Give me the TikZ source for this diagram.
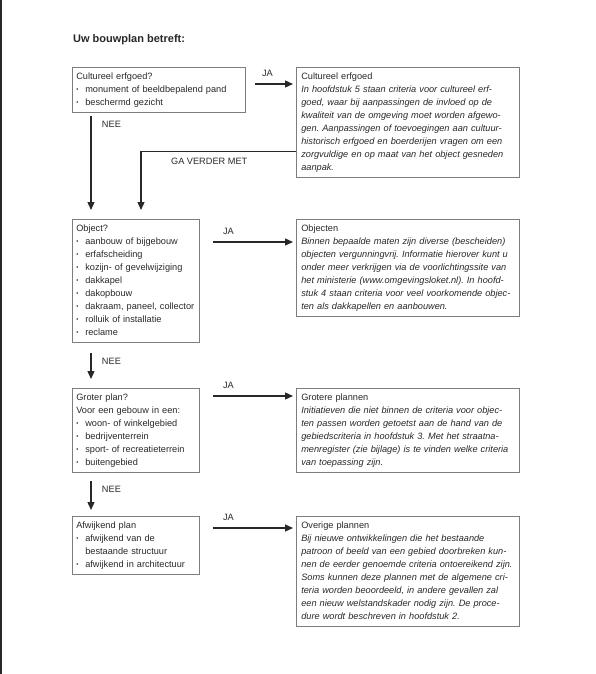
\documentclass[tikz,border=0pt]{standalone}
\usepackage{fontspec}
\setmainfont{Liberation Sans}
\usetikzlibrary{arrows.meta, positioning}
\definecolor{frame}{RGB}{125,125,125}
\definecolor{ink}{RGB}{40,40,40}
\newcommand{\itm}[1]{\makebox[9pt][l]{\raisebox{0.8pt}{\fontsize{6}{6}\selectfont\textbullet}}#1}
\newcommand{\jl}[1]{\makebox[\linewidth][s]{#1}\\}
\frenchspacing

\begin{document}
\begin{tikzpicture}[x=1pt, y=-1pt,
    question/.style={rectangle, draw=frame, line width=0.6pt, anchor=north west,
                     text width=#1, align=left, inner xsep=4pt, inner ysep=3pt,
                     text=ink, font=\fontsize{9.2}{13}\selectfont,
                     execute at begin node=\strut, execute at end node=\strut},
    answer/.style={question=213pt, inner xsep=5pt},
    arr/.style={-{Triangle[length=8pt,width=7pt]}, line width=1.3pt, draw=ink},
    lbl/.style={font=\fontsize{9.2}{11}\selectfont, text=ink},
    nee/.style={lbl, anchor=north west, xshift=7pt, yshift=-2pt}
  ]
  \useasboundingbox (0,0) rectangle (596,674);
  \draw[line width=1.5pt, ink] (0.75,0) -- (0.75,674);

  \node[anchor=base west, inner sep=0pt, text=ink,
        font=\bfseries\fontsize{11}{13}\selectfont] (title) at (73,43)
    {Uw bouwplan betreft:};

  % vragen links
  \node[question=165pt] (cult) at (72,67)
    {Cultureel erfgoed?\\
     \itm{monument of beeldbepalend pand}\\
     \itm{beschermd gezicht}};
  \node[question=119pt] (obj) at (72,219)
    {Object?\\
     \itm{aanbouw of bijgebouw}\\
     \itm{erfafscheiding}\\
     \itm{kozijn- of gevelwijziging}\\
     \itm{dakkapel}\\
     \itm{dakopbouw}\\
     \itm{dakraam, paneel, collector}\\
     \itm{rolluik of installatie}\\
     \itm{reclame}};
  \node[question=119pt] (groot) at (72,388)
    {Groter plan?\\
     Voor een gebouw in een:\\
     \itm{woon- of winkelgebied}\\
     \itm{bedrijventerrein}\\
     \itm{sport- of recreatieterrein}\\
     \itm{buitengebied}};
  \node[question=119pt] (afw) at (72,516)
    {Afwijkend plan\\
     \itm{afwijkend van de}\\
     \hspace*{9pt}bestaande structuur\\
     \itm{afwijkend in architectuur}};

  % toelichting rechts
  \node[answer] (cultinfo) at (296,67)
    {Cultureel erfgoed\\ \itshape
     \jl{In hoofdstuk 5 staan criteria voor cultureel erf-}
     \jl{goed, waar bij aanpassingen de invloed op de}
     \jl{kwaliteit van de omgeving moet worden afgewo-}
     \jl{gen. Aanpassingen of toevoegingen aan cultuur-}
     \jl{historisch erfgoed en boerderijen vragen om een}
     \jl{zorgvuldige en op maat van het object gesneden}
     aanpak.};
  \node[answer] (objinfo) at (296,219)
    {Objecten\\ \itshape
     \jl{Binnen bepaalde maten zijn diverse (bescheiden)}
     \jl{objecten vergunningvrij. Informatie hierover kunt u}
     \jl{onder meer verkrijgen via de voorlichtingssite van}
     \jl{het ministerie (www.omgevingsloket.nl). In hoofd-}
     \jl{stuk 4 staan criteria voor veel voorkomende objec-}
     ten als dakkapellen en aanbouwen.};
  \node[answer] (grootinfo) at (296,388)
    {Grotere plannen\\ \itshape
     \jl{Initiatieven die niet binnen de criteria voor objec-}
     \jl{ten passen worden getoetst aan de hand van de}
     \jl{gebiedscriteria in hoofdstuk 3. Met het straatna-}
     \jl{menregister (zie bijlage) is te vinden welke criteria}
     van toepassing zijn.};
  \node[answer] (overinfo) at (296,516)
    {Overige plannen\\ \itshape
     \jl{Bij nieuwe ontwikkelingen die het bestaande}
     \jl{patroon of beeld van een gebied doorbreken kun-}
     \jl{nen de eerder genoemde criteria ontoereikend zijn.}
     \jl{Soms kunnen deze plannen met de algemene cri-}
     \jl{teria worden beoordeeld, in andere gevallen zal}
     \jl{een nieuw welstandskader nodig zijn. De proce-}
     dure wordt beschreven in hoofdstuk 2.};

  % JA
  \draw[arr, shorten >=3pt] ([xshift=9pt,yshift=-17pt]cult.north east) coordinate (ja1)
    -- (ja1 -| cultinfo.west) node[lbl, pos=0.31, above=3pt] {JA};
  \draw[arr, shorten >=3pt] ([xshift=13pt,yshift=-23pt]obj.north east) coordinate (ja2)
    -- (ja2 -| objinfo.west) node[lbl, pos=0.19, above=3pt] {JA};
  \draw[arr, shorten >=3pt] ([xshift=13pt,yshift=-8pt]groot.north east) coordinate (ja3)
    -- (ja3 -| grootinfo.west) node[lbl, pos=0.19, above=3pt] {JA};
  \draw[arr, shorten >=3pt] ([xshift=13pt,yshift=-12pt]afw.north east) coordinate (ja4)
    -- (ja4 -| overinfo.west) node[lbl, pos=0.19, above=3pt] {JA};

  % NEE
  \draw[arr, shorten >=9pt] ([xshift=19pt,yshift=-3pt]cult.south west) coordinate (nee1)
    -- (nee1 |- obj.north) node[nee, at start] {NEE};
  \draw[arr, shorten >=9pt] ([xshift=19pt,yshift=-10pt]obj.south west) coordinate (nee2)
    -- (nee2 |- groot.north) node[nee, at start] {NEE};
  \draw[arr, shorten >=6pt] ([xshift=19pt,yshift=-8pt]groot.south west) coordinate (nee3)
    -- (nee3 |- afw.north) node[nee, at start] {NEE};

  % verder
  \draw[arr, shorten >=9pt] ([yshift=26pt]cultinfo.south west)
    -| ([xshift=69pt]obj.north west) node[lbl, pos=0.28, below=2pt] {GA VERDER MET};
\end{tikzpicture}
\end{document}
